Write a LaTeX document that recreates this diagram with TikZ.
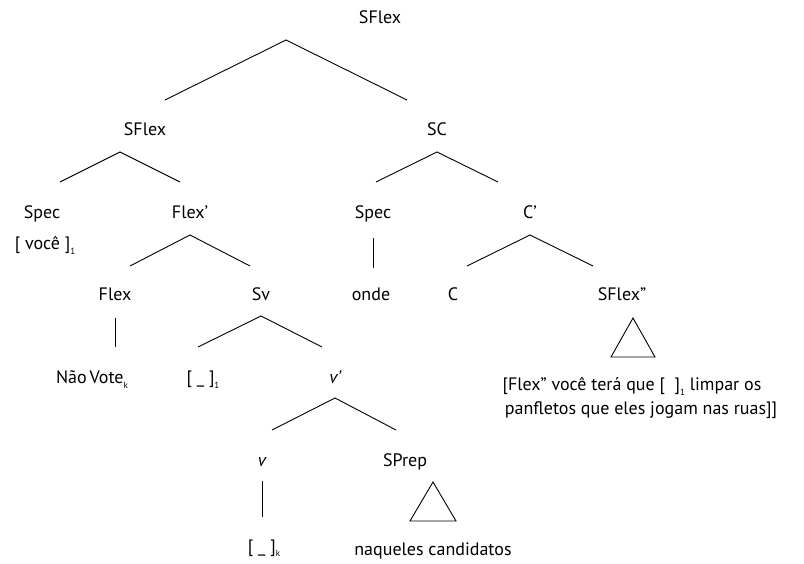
\documentclass[tikz,border=0pt]{standalone}
\usepackage{fontspec}
\setmainfont{PT Sans}
\newcommand{\sbs}[1]{\raisebox{-0.55ex}{\fontsize{9}{9}\selectfont #1}}
\begin{document}
\begin{tikzpicture}[x=1pt,y=-1pt,
  lab/.style={font=\fontsize{18}{20}\selectfont, inner sep=0pt, anchor=base},
  edge/.style={draw=black, line width=0.9pt}]
\useasboundingbox (0,0) rectangle (804,564);
% labels (anchor base: y = baseline)
\node[lab] (root) at (380,24) {SFlex};
\node[lab] (sflex) at (145,136) {SFlex};
\node[lab] (sc) at (437,136) {SC};
\node[lab] (spec1) at (42,219) {Spec};
\node[lab] (voce) at (45,250) {[ você ]\sbs{1}};
\node[lab] (flexp) at (190,219) {Flex’};
\node[lab] (spec2) at (373,219) {Spec};
\node[lab] (cp) at (530,219) {C’};
\node[lab] (flex) at (115,301) {Flex};
\node[lab] (sv) at (261,301) {Sv};
\node[lab] (onde) at (371,301) {onde};
\node[lab] (c) at (453,301) {C};
\node[lab] (sflex2) at (622,301) {SFlex”};
\node[lab] (naovote) at (92,384) {Não\,Vote\sbs{k}};
\node[lab] (gap1) at (203,384) {[ \_ ]\sbs{1}};
\node[lab] (vp) at (335,383) {\itshape v’};
\node[lab] (v) at (262,466) {\itshape v};
\node[lab] (sprep) at (405,466) {SPrep};
\node[lab] (gapk) at (264,552) {[ \_ ]\sbs{k}};
\node[lab] (naq) at (433,555) {naqueles candidatos};
\node[lab] (txt1) at (632,391) {[Flex” você terá que [~~]\sbs{1} limpar os};
\node[lab] (txt2) at (641,414) {panfletos que eles jogam nas ruas]]};
% branch coordinates
\coordinate (a0) at (286,40); \coordinate (a0l) at (165,100); \coordinate (a0r) at (407,100);
\coordinate (a1) at (120,152); \coordinate (a1l) at (60,182); \coordinate (a1r) at (180,182);
\coordinate (a2) at (437,152); \coordinate (a2l) at (376,182); \coordinate (a2r) at (498,182);
\coordinate (a3) at (190,235); \coordinate (a3l) at (130,266); \coordinate (a3r) at (250,266);
\coordinate (a4) at (530,235); \coordinate (a4l) at (467,266); \coordinate (a4r) at (593,266);
\coordinate (a5) at (261,316); \coordinate (a5l) at (198,347); \coordinate (a5r) at (322,347);
\coordinate (a6) at (335,398); \coordinate (a6l) at (272,430); \coordinate (a6r) at (396,430);
\coordinate (s1t) at (373,238); \coordinate (s1b) at (373,268);
\coordinate (f1t) at (115,318); \coordinate (f1b) at (115,347);
\coordinate (v1t) at (262,481); \coordinate (v1b) at (262,517);
\coordinate (t1) at (633,318); \coordinate (t1l) at (611,357); \coordinate (t1r) at (655,357);
\coordinate (t2) at (433,482); \coordinate (t2l) at (410,521); \coordinate (t2r) at (456,521);
\draw[edge] (a0l) -- (a0) -- (a0r);
\draw[edge] (a1l) -- (a1) -- (a1r);
\draw[edge] (a2l) -- (a2) -- (a2r);
\draw[edge] (a3l) -- (a3) -- (a3r);
\draw[edge] (a4l) -- (a4) -- (a4r);
\draw[edge] (a5l) -- (a5) -- (a5r);
\draw[edge] (a6l) -- (a6) -- (a6r);
\draw[edge] (s1t) -- (s1b);
\draw[edge] (f1t) -- (f1b);
\draw[edge] (v1t) -- (v1b);
\draw[edge] (t1l) -- (t1) -- (t1r) -- cycle;
\draw[edge] (t2l) -- (t2) -- (t2r) -- cycle;
\end{tikzpicture}
\end{document}
